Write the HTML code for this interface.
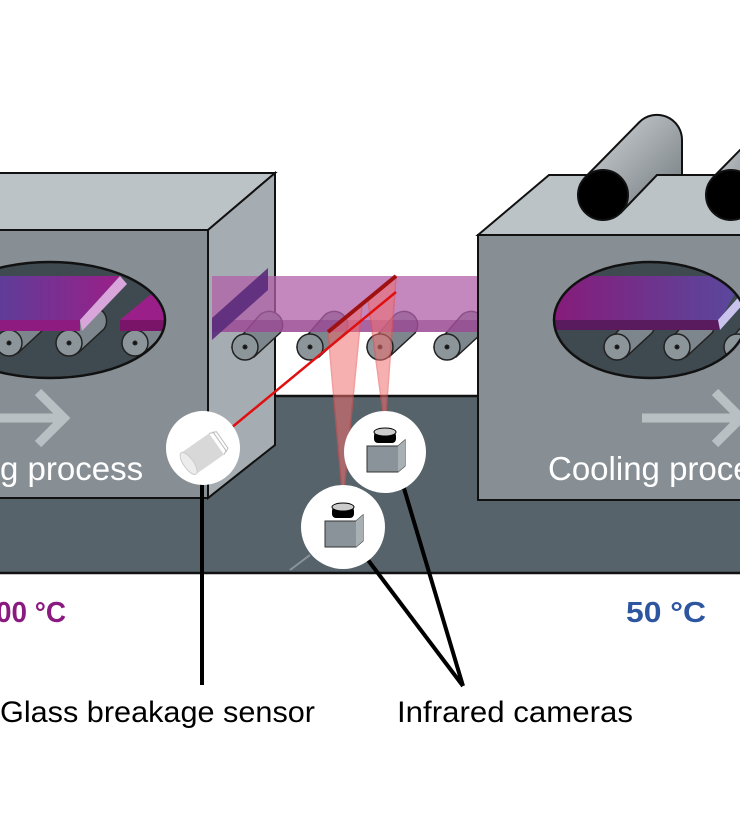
<!DOCTYPE html>
<html><head><meta charset="utf-8"><style>html,body{margin:0;padding:0;background:#fff}svg{display:block}</style></head><body>
<svg width="740" height="820" viewBox="0 0 740 820" xmlns="http://www.w3.org/2000/svg" font-family="Liberation Sans, sans-serif">
<defs>
<linearGradient id="gl" x1="0" x2="1"><stop offset="0" stop-color="#5a3f9a"/><stop offset="1" stop-color="#9a1f88"/></linearGradient>
<linearGradient id="gr" x1="0" x2="1"><stop offset="0" stop-color="#8a1878"/><stop offset="1" stop-color="#574a9e"/></linearGradient>
<linearGradient id="cyl" x1="0" y1="0" x2="1" y2="1"><stop offset="0" stop-color="#d5d9dc"/><stop offset="1" stop-color="#6f777c"/></linearGradient>
<clipPath id="ell1"><ellipse cx="50" cy="320" rx="115" ry="58"/></clipPath>
<clipPath id="ell2"><ellipse cx="650" cy="320" rx="96" ry="58"/></clipPath>
</defs>
<!-- base -->
<rect x="-5" y="396" width="750" height="177" fill="#56636a" stroke="#111" stroke-width="2.5"/>
<line x1="290" y1="570" x2="310" y2="555" stroke="#8a949a" stroke-width="2"/>
<!-- left box -->
<polygon points="-5,230 208,230 275,173 -5,173" fill="#bcc3c7" stroke="#111" stroke-width="2"/>
<polygon points="208,230 275,173 275,445 208,498" fill="#a6adb2" stroke="#111" stroke-width="2"/>
<rect x="-5" y="230" width="213" height="268" fill="#878f95" stroke="#111" stroke-width="2"/>
<ellipse cx="50" cy="320" rx="115" ry="58" fill="#3f4a50"/>
<g clip-path="url(#ell1)" stroke="#222" stroke-width="1.5">
<g transform="translate(9,343)"><path d="M-13,0 L13,-30 A13,13 0 0 1 35,-14 L9,10 Z" fill="#7d868c"/><circle r="13" fill="#8c959a"/><circle r="1.8" fill="#111"/></g>
<g transform="translate(69,343)"><path d="M-13,0 L13,-30 A13,13 0 0 1 35,-14 L9,10 Z" fill="#7d868c"/><circle r="13" fill="#8c959a"/><circle r="1.8" fill="#111"/></g>
<g transform="translate(135,343)"><path d="M-13,0 L13,-30 A13,13 0 0 1 35,-14 L9,10 Z" fill="#7d868c"/><circle r="13" fill="#8c959a"/><circle r="1.8" fill="#111"/></g>
<polygon points="-10,276 120,276 80,320 -10,320" fill="url(#gl)" stroke="none"/>
<rect x="-10" y="320" width="90" height="11" fill="#8e1c80" stroke="none"/>
<polygon points="80,320 120,276 127,284 82,331" fill="#d9a6dc" stroke="none"/>
<polygon points="120,320 150,295 170,295 170,320" fill="#9a1f88" stroke="none"/>
<rect x="120" y="320" width="50" height="11" fill="#7a1468" stroke="none"/>
</g>
<ellipse cx="50" cy="320" rx="115" ry="58" fill="none" stroke="#111" stroke-width="2.5"/>
<path d="M-5,418 L62,418 M38,392 L64,418 L38,444" stroke="#b9c0c4" stroke-width="9" fill="none"/>
<text x="0" y="480" font-size="33" fill="#fff">g process</text>
<!-- middle rollers -->
<g stroke="#222" stroke-width="1.5">
<g transform="translate(245,347)"><path d="M-13,0 L13,-30 A13,13 0 0 1 35,-14 L9,10 Z" fill="#7d868c"/><circle r="13" fill="#8c959a"/><circle r="1.8" fill="#111"/></g>
<g transform="translate(310,347)"><path d="M-13,0 L13,-30 A13,13 0 0 1 35,-14 L9,10 Z" fill="#7d868c"/><circle r="13" fill="#8c959a"/><circle r="1.8" fill="#111"/></g>
<g transform="translate(380,347)"><path d="M-13,0 L13,-30 A13,13 0 0 1 35,-14 L9,10 Z" fill="#7d868c"/><circle r="13" fill="#8c959a"/><circle r="1.8" fill="#111"/></g>
<g transform="translate(447,347)"><path d="M-13,0 L13,-30 A13,13 0 0 1 35,-14 L9,10 Z" fill="#7d868c"/><circle r="13" fill="#8c959a"/><circle r="1.8" fill="#111"/></g>
</g>
<!-- middle glass -->
<rect x="212" y="276" width="268" height="56" fill="#b060a8" opacity="0.75"/>
<rect x="212" y="320" width="268" height="12" fill="#8a3a86" opacity="0.45"/>
<polygon points="212,318 268,268 268,290 212,340" fill="#5a2a7a" opacity="0.9"/>
<!-- right box -->
<polygon points="478,235 549,175 745,175 745,235" fill="#bcc3c7" stroke="#111" stroke-width="2"/>
<g stroke="#111" stroke-width="2">
<path d="M585,177.5 L639,122.5 A25,25 0 0 1 682,140 L682,175 L657,175 L621,212.5 Z" fill="url(#cyl)"/>
<circle cx="603" cy="195" r="25" fill="#000"/>
<path d="M713,177.5 L767,122.5 L767,213 L749,212.5 Z" fill="url(#cyl)"/>
<circle cx="731" cy="195" r="25" fill="#000"/>
</g>
<rect x="478" y="235" width="267" height="265" fill="#878f95" stroke="#111" stroke-width="2"/>
<ellipse cx="650" cy="320" rx="96" ry="58" fill="#3f4a50"/>
<g clip-path="url(#ell2)" stroke="#222" stroke-width="1.5">
<g transform="translate(617,347)"><path d="M-13,0 L13,-30 A13,13 0 0 1 35,-14 L9,10 Z" fill="#7d868c"/><circle r="13" fill="#8c959a"/><circle r="1.8" fill="#111"/></g>
<g transform="translate(677,347)"><path d="M-13,0 L13,-30 A13,13 0 0 1 35,-14 L9,10 Z" fill="#7d868c"/><circle r="13" fill="#8c959a"/><circle r="1.8" fill="#111"/></g>
<g transform="translate(737,347)"><path d="M-13,0 L13,-30 A13,13 0 0 1 35,-14 L9,10 Z" fill="#7d868c"/><circle r="13" fill="#8c959a"/><circle r="1.8" fill="#111"/></g>
<polygon points="540,276 745,276 720,320 540,320" fill="url(#gr)" stroke="none"/>
<rect x="540" y="320" width="180" height="10" fill="#5a1a5e" stroke="none"/>
<polygon points="718,320 745,290 745,302 720,330" fill="#c9c3ee" stroke="none"/>
</g>
<ellipse cx="650" cy="320" rx="96" ry="58" fill="none" stroke="#111" stroke-width="2.5"/>
<path d="M642,418 L740,418 M715,392 L741,418 L715,444" stroke="#b9c0c4" stroke-width="9" fill="none"/>
<text x="548" y="480" font-size="33" fill="#fff">Cooling process</text>
<!-- beams -->
<polygon points="343,502 328,332 362,305" fill="#f07070" opacity="0.55" stroke="#e85050" stroke-width="1.5"/>
<polygon points="385,428 368,300 396,277" fill="#f07070" opacity="0.55" stroke="#e85050" stroke-width="1.5"/>
<line x1="328" y1="332" x2="396" y2="276" stroke="#a01010" stroke-width="4"/>
<line x1="225" y1="433" x2="396" y2="292" stroke="#e01010" stroke-width="2.5"/>
<!-- leader lines -->
<line x1="202" y1="480" x2="202" y2="685" stroke="#000" stroke-width="4"/>
<line x1="368" y1="560" x2="463" y2="686" stroke="#000" stroke-width="4"/>
<line x1="403" y1="485" x2="463" y2="686" stroke="#000" stroke-width="4"/>
<!-- sensor -->
<circle cx="203" cy="448" r="37" fill="#fff"/>
<g transform="translate(205,452) rotate(-35)">
<rect x="-20" y="-13" width="34" height="26" fill="#d8d8d8"/>
<path d="M14,-13 L18,-11 L18,11 L14,13 M17,-12 L21,-10 L21,10 L17,12" stroke="#bbb" fill="none"/>
<ellipse cx="-20" cy="0" rx="5" ry="13" fill="#ececec" stroke="#ccc"/>
</g>
<!-- cameras -->
<circle cx="385" cy="452" r="41" fill="#fff"/>
<g transform="translate(385,452)">
<polygon points="-18,-6 13,-6 20,-12 20,14 13,20 -18,20" fill="#8a9399" stroke="#333" stroke-width="1"/>
<polygon points="13,-6 20,-12 20,14 13,20" fill="#a9b0b4"/>
<rect x="-11" y="-20" width="22" height="11" rx="4" fill="#000"/>
<ellipse cx="0" cy="-20" rx="11" ry="4" fill="#ccc" stroke="#000"/>
</g>
<circle cx="343" cy="527" r="42" fill="#fff"/>
<g transform="translate(343,527)">
<polygon points="-18,-6 13,-6 20,-12 20,14 13,20 -18,20" fill="#8a9399" stroke="#333" stroke-width="1"/>
<polygon points="13,-6 20,-12 20,14 13,20" fill="#a9b0b4"/>
<rect x="-11" y="-20" width="22" height="11" rx="4" fill="#000"/>
<ellipse cx="0" cy="-20" rx="11" ry="4" fill="#ccc" stroke="#000"/>
</g>
<!-- labels -->
<text x="-4" y="622" font-size="29" font-weight="bold" fill="#8b1a80" textLength="70" lengthAdjust="spacingAndGlyphs">00 °C</text>
<text x="626" y="622" font-size="29" font-weight="bold" fill="#2e56a0" textLength="80" lengthAdjust="spacingAndGlyphs">50 °C</text>
<text x="0" y="722" font-size="30" fill="#000" textLength="315" lengthAdjust="spacingAndGlyphs">Glass breakage sensor</text>
<text x="397" y="722" font-size="30" fill="#000" textLength="236" lengthAdjust="spacingAndGlyphs">Infrared cameras</text>
</svg>
</body></html>
